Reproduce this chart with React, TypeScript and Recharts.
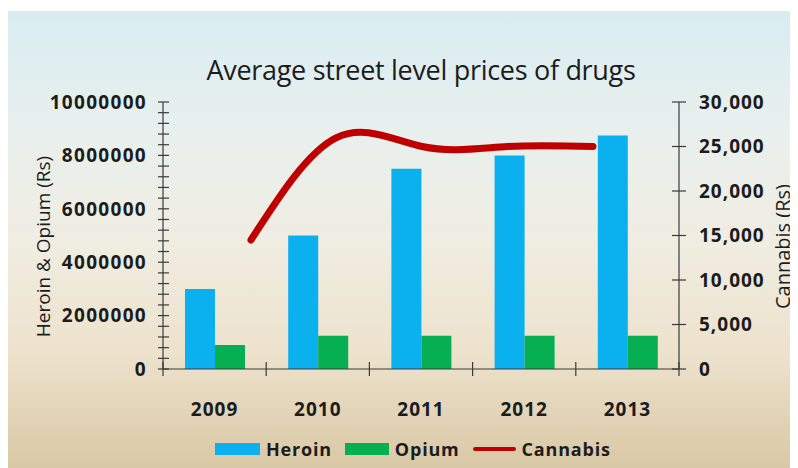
import { ComposedChart, Bar, Line, XAxis, YAxis, Legend } from 'recharts';

const years = ['2009', '2010', '2011', '2012', '2013'];
const heroin = [3000000, 5000000, 7500000, 8000000, 8750000];
const opium = [900000, 1250000, 1250000, 1250000, 1250000];
const cannabis = [14500, 26000, 25000, 25000, 25000];

// left axis: labels every 2M, minor marks every 400k
const leftLabels = [0, 2000000, 4000000, 6000000, 8000000, 10000000];
const leftTicks = Array.from({ length: 26 }, (_, i) => i * 400000);
const rightTicks = [0, 5000, 10000, 15000, 20000, 25000, 30000];

const data = years.map((year, i) => ({
  year,
  heroin: heroin[i],
  opium: opium[i],
  cannabis: cannabis[i],
}));

const FONT = "'Open Sans', sans-serif";
const AXIS = '#3a3a3a';
const TEXT = '#1c1c1c';
const BLUE = '#0bb0ef';
const GREEN = '#06b052';
const RED = '#c00000';

function LeftTick({ x, y, payload }: any) {
  const v = payload.value;
  return (
    <g>
      <line x1={x - 5} x2={x + 6} y1={y} y2={y} stroke={AXIS} strokeWidth={1.2} />
      {leftLabels.includes(v) && (
        <text x={x - 16} y={y} dy="0.36em" textAnchor="end" fontFamily={FONT} fontWeight={700}
          fontSize={19} letterSpacing={1.3} fill={TEXT}>
          {v}
        </text>
      )}
    </g>
  );
}

function RightTick({ x, y, payload }: any) {
  return (
    <g>
      <line x1={x - 7} x2={x + 7} y1={y} y2={y} stroke={AXIS} strokeWidth={1.2} />
      <text x={x + 20} y={y} dy="0.36em" textAnchor="start" fontFamily={FONT} fontWeight={700}
        fontSize={19} letterSpacing={1} fill={TEXT}>
        {payload.value.toLocaleString('en-US')}
      </text>
    </g>
  );
}

function YearTick({ x, y, payload, index }: any) {
  const half = payload.offset ?? 51.6;
  return (
    <g>
      <line x1={x - half} x2={x - half} y1={y - 7} y2={y + 7} stroke={AXIS} strokeWidth={1.2} />
      {index === years.length - 1 && (
        <line x1={x + half} x2={x + half} y1={y - 7} y2={y + 7} stroke={AXIS} strokeWidth={1.2} />
      )}
      <text x={x} y={y + 40} dy="0.36em" textAnchor="middle" fontFamily={FONT} fontWeight={700}
        fontSize={19} letterSpacing={1} fill={TEXT}>
        {payload.value}
      </text>
    </g>
  );
}

function AxisTitle({ viewBox, value, dx, fontSize }: any) {
  const cx = viewBox.x + dx;
  const cy = viewBox.y + viewBox.height / 2 + 11;
  return (
    <text x={cx} y={cy} transform={`rotate(-90 ${cx} ${cy})`} textAnchor="middle" dominantBaseline="central"
      fontFamily={FONT} fontSize={fontSize} fill={TEXT}>
      {value}
    </text>
  );
}

function LegendBox() {
  const item = { display: 'flex', alignItems: 'center', marginRight: 13 } as const;
  const label = { marginLeft: 6, fontWeight: 700, fontSize: 18, letterSpacing: 0.8, color: TEXT } as const;
  return (
    <div style={{ display: 'flex', alignItems: 'center', fontFamily: FONT, lineHeight: '24px' }}>
      <div style={item}>
        <span style={{ width: 45, height: 12, background: BLUE }} />
        <span style={label}>Heroin</span>
      </div>
      <div style={item}>
        <span style={{ width: 44, height: 12, background: GREEN }} />
        <span style={label}>Opium</span>
      </div>
      <div style={item}>
        <span style={{ width: 43, height: 4, background: RED, borderRadius: 2 }} />
        <span style={label}>Cannabis</span>
      </div>
    </div>
  );
}

export default function App() {
  return (
    <div
      style={{
        position: 'relative',
        width: 790,
        height: 457,
        marginTop: 3,
        background: 'linear-gradient(to bottom, #d8ecf1 0%, #e8f0ee 25%, #f0ede2 50%, #ede2cc 75%, #d9c8a5 100%)',
        fontFamily: FONT,
      }}
    >
      <div
        style={{
          position: 'absolute',
          left: 155,
          width: 516,
          top: 40,
          textAlign: 'center',
          fontSize: 27,
          color: TEXT,
          letterSpacing: -0.3,
        }}
      >
        Average street level prices of drugs
      </div>
      <ComposedChart
        width={790}
        height={457}
        data={data}
        margin={{ top: 91, right: 0, bottom: 0, left: 0 }}
        barGap={0}
      >
        <XAxis
          xAxisId="bars"
          dataKey="year"
          height={99}
          axisLine={{ stroke: AXIS, strokeWidth: 1.2 }}
          tickLine={false}
          tickSize={0}
          tickMargin={0}
          tick={<YearTick />}
          interval={0}
        />
        <XAxis xAxisId="line" dataKey="year" scale="point" padding={{ left: 88, right: 86 }} hide />
        <YAxis
          yAxisId="left"
          width={155}
          domain={[0, 10000000]}
          ticks={leftTicks}
          interval={0}
          axisLine={{ stroke: AXIS, strokeWidth: 1.2 }}
          tickLine={false}
          tickSize={0}
          tickMargin={0}
          tick={<LeftTick />}
          label={<AxisTitle value="Heroin & Opium (Rs)" dx={35} fontSize={19} />}
        />
        <YAxis
          yAxisId="right"
          orientation="right"
          width={119}
          domain={[0, 30000]}
          ticks={rightTicks}
          interval={0}
          axisLine={{ stroke: AXIS, strokeWidth: 1.2 }}
          tickLine={false}
          tickSize={0}
          tickMargin={0}
          tick={<RightTick />}
          label={<AxisTitle value="Cannabis (Rs)" dx={103} fontSize={20} />}
        />
        <Bar xAxisId="bars" yAxisId="left" dataKey="heroin" name="Heroin" fill={BLUE} barSize={30} isAnimationActive={false} />
        <Bar xAxisId="bars" yAxisId="left" dataKey="opium" name="Opium" fill={GREEN} barSize={30} isAnimationActive={false} />
        <Line
          xAxisId="line"
          yAxisId="right"
          dataKey="cannabis"
          name="Cannabis"
          type="natural"
          stroke={RED}
          strokeWidth={7}
          strokeLinecap="round"
          dot={false}
          activeDot={false}
          isAnimationActive={false}
        />
        <Legend
          layout="horizontal"
          verticalAlign="middle"
          align="center"
          wrapperStyle={{ top: 426, left: 207, width: 'auto', height: 'auto' }}
          content={() => <LegendBox />}
        />
      </ComposedChart>
    </div>
  );
}
